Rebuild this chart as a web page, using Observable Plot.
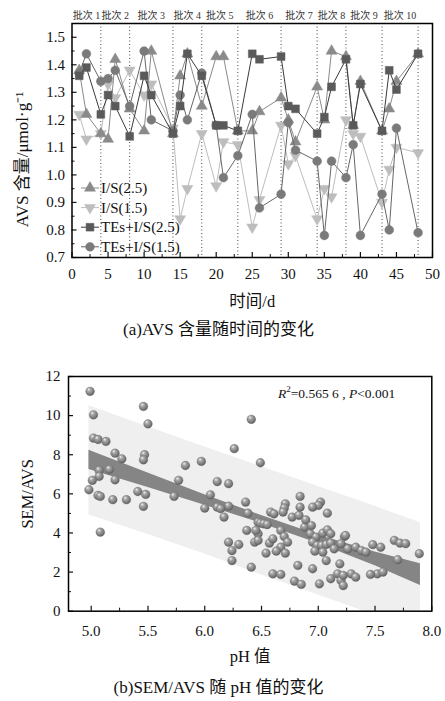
<!DOCTYPE html>
<html><head><meta charset="utf-8">
<script src="https://cdn.jsdelivr.net/npm/d3@7"></script>
<script src="https://cdn.jsdelivr.net/npm/@observablehq/plot@0.6"></script>
<style>
body{margin:0;background:#fff;}
#wrap{position:relative;width:445px;height:701px;overflow:hidden;font-family:"Liberation Serif","Noto Sans CJK SC",serif;color:#111;}
#wrap svg{position:absolute;left:0;}
.cap{position:absolute;left:0;width:445px;text-align:center;font-size:17px;line-height:20px;}
#ann{position:absolute;left:278px;top:381px;font-size:13.5px;line-height:16px;white-space:nowrap;}
</style></head><body><div id="wrap"></div>
<script>
// ---------- Panel (a) data ----------
const days = [1,2,4,5,6,8,10,11,14,15,16,18,20,21,23,25,26,29,30,31,34,35,36,38,39,40,43,44,45,48];
const seriesNames = ["I/S(2.5)","I/S(1.5)","TEs+I/S(2.5)","TEs+I/S(1.5)"];
const is25 = [1.38,1.22,1.15,1.13,1.42,1.24,1.16,1.45,1.15,1.36,1.44,1.25,1.43,1.43,1.16,1.16,1.23,1.28,1.20,1.12,1.32,1.20,1.45,1.43,1.18,1.34,1.16,1.24,1.34,1.44];
const is15 = [1.22,1.13,1.15,1.33,1.28,1.38,1.29,1.33,1.17,0.84,0.95,1.15,0.96,1.12,1.11,0.81,0.91,1.18,1.04,1.07,0.84,0.95,0.92,1.20,1.15,1.14,0.90,1.02,1.10,1.08];
const te25 = [1.36,1.39,1.22,1.29,1.25,1.14,1.36,1.29,1.15,1.25,1.44,1.36,1.18,1.18,1.16,1.44,1.42,1.43,1.25,1.24,1.15,1.21,1.32,1.42,1.18,1.33,1.16,1.38,1.31,1.44];
const te15 = [1.37,1.44,1.34,1.35,1.38,1.25,1.45,1.20,1.16,1.29,1.20,1.37,1.18,0.99,1.07,1.22,0.88,0.93,1.19,1.09,1.05,0.78,1.05,0.99,1.11,0.78,0.93,0.80,1.17,0.79];
const batchBounds = [4,8,14,18,23,29,34,38,43,48];
const batchMid = [2,6,11,16,20.5,26,31.5,36,40.5,45.5];
const batchLabels = ["批次 1","批次 2","批次 3","批次 4","批次 5","批次 6","批次 7","批次 8","批次 9","批次 10"];
const xTicksA = [0,5,10,15,20,25,30,35,40,45,50];
const xMinorA = [2.5,7.5,12.5,17.5,22.5,27.5,32.5,37.5,42.5,47.5];
const yTicksA = [0.7,0.8,0.9,1.0,1.1,1.2,1.3,1.4,1.5];
const yMinorA = [0.75,0.85,0.95,1.05,1.15,1.25,1.35,1.45];

// ---------- Panel (b) data ----------
const ph = [4.99,5.02,5.02,5.06,5.13,5.21,5.27,5.07,5.16,5.07,5.01,5.21,4.98,5.06,5.08,5.19,5.31,5.08,
5.46,5.50,5.47,5.46,5.41,5.48,5.46,5.83,5.77,5.73,5.97,6.05,6.00,6.11,6.21,6.11,6.21,6.14,6.17,6.26,
6.41,6.49,6.36,6.38,6.47,6.37,6.47,6.44,6.21,6.30,6.24,6.24,6.41,6.84,6.71,6.70,7.02,7.00,7.08,6.58,
6.61,6.69,6.77,6.83,6.49,6.52,6.55,6.45,6.47,6.57,6.60,6.67,6.70,6.73,6.67,6.54,6.63,6.71,6.88,6.93,
6.98,7.04,7.08,7.11,6.95,6.99,7.03,7.07,7.11,6.97,7.04,7.14,7.23,7.20,7.26,7.33,7.38,7.42,7.48,7.55,
7.67,7.72,7.77,7.89,7.70,6.60,6.67,6.79,6.85,6.82,6.95,7.01,7.11,7.17,7.20,7.22,7.19,7.07,7.29,7.33,
7.52,7.57,6.84,6.95,6.89,6.94,7.24,7.46,7.22];
const semavs = [11.24,10.04,8.85,8.78,8.68,8.08,7.79,7.20,7.25,6.89,6.69,6.72,6.21,5.92,5.87,5.70,5.70,4.04,
10.47,9.58,8.00,7.74,6.12,5.97,5.36,7.45,6.69,5.87,7.66,5.95,5.27,6.63,6.52,5.32,5.37,5.24,4.81,8.31,
9.81,7.59,5.58,5.01,4.55,4.13,3.96,3.53,3.53,3.41,3.10,2.59,2.25,5.87,5.49,5.27,5.58,5.41,5.01,5.07,
4.98,5.07,4.81,4.90,4.50,4.47,4.43,4.13,3.62,3.48,3.70,4.13,3.82,3.53,3.27,2.97,3.07,2.97,4.30,3.96,
3.79,3.99,4.16,3.96,3.53,3.36,3.36,3.41,3.48,3.07,3.02,3.19,3.82,3.45,3.19,3.27,3.10,3.02,3.40,3.27,
3.62,3.48,3.45,2.94,2.63,1.91,1.88,1.54,1.37,2.34,2.17,1.40,1.66,1.91,1.57,1.31,2.42,2.59,1.91,1.74,
1.91,2.00,5.32,5.32,4.67,4.38,3.87,1.88,1.83];
const bandPH = [4.98,5.5,6.0,6.5,7.0,7.5,7.9];
const ciLow  = [7.25,6.33,5.42,4.49,3.46,2.33,1.32];
const ciHigh = [8.23,7.07,5.96,4.89,3.90,3.03,2.42];
const piLow  = [4.92,3.92,2.93,1.85,0.83,-0.20,-1.00];
const piHigh = [10.50,9.43,8.40,7.39,6.38,5.36,4.52];
const xTicksB = [5.0,5.5,6.0,6.5,7.0,7.5,8.0];
const xMinorB = [5.25,5.75,6.25,6.75,7.25,7.75];
const yTicksB = [0,2,4,6,8,10,12];
const yMinorB = [1,3,5,7,9,11];

const FONT = '"Liberation Serif","Noto Sans CJK SC",serif';
const wrap = document.getElementById("wrap");

// ---------- Panel (a) ----------
const valuesBy = [is25, is15, te25, te15];
const sty = [
  {fill:"#8a8a8a", line:"#8a8a8a", symbol:"triangle", rot:0, r:4.1},
  {fill:"#bdbdbd", line:"#bdbdbd", symbol:"triangle", rot:180, r:4.1},
  {fill:"#5a5a5a", line:"#3a3a3a", symbol:"square", rot:0, r:4.4},
  {fill:"#7a7a7a", line:"#666666", symbol:"circle", rot:0, r:4.4}
];
const drawOrder = [1,0,3,2];
const seriesMarks = [];
for (const k of drawOrder) {
  const rows = days.map((d,i)=>({day:d, v:valuesBy[k][i]}));
  seriesMarks.push(Plot.line(rows,{x:"day",y:"v",stroke:sty[k].line,strokeWidth:1}));
  seriesMarks.push(Plot.dot(rows,{x:"day",y:"v",symbol:sty[k].symbol,r:sty[k].r,fill:sty[k].fill,stroke:sty[k].fill,strokeWidth:0.5,rotate:sty[k].rot}));
}
const plotA = Plot.plot({
  width:445, height:310, marginTop:23, marginBottom:53, marginLeft:71.5, marginRight:13,
  x:{domain:[0,50]}, y:{domain:[0.7,1.55]},
  style:{fontFamily:FONT, fontSize:"15px", color:"#111", background:"transparent", overflow:"visible"},
  marks:[
    Plot.ruleX(batchBounds,{stroke:"#444",strokeDasharray:"1,2.5",strokeWidth:1}),
    ...seriesMarks,
    Plot.axisX({ticks:xTicksA, tickSize:0, tickPadding:11, tickFormat:d=>String(d), label:null}),
    Plot.axisX({ticks:xTicksA, tickSize:-5, tickFormat:()=>"", label:null, strokeWidth:1.2}),
    Plot.axisX({ticks:xMinorA, tickSize:-3, tickFormat:()=>"", label:null}),
    Plot.axisY({ticks:yTicksA, tickSize:0, tickPadding:7, tickFormat:d3.format(".1f"), label:null}),
    Plot.axisY({ticks:yTicksA, tickSize:-5, tickFormat:()=>"", label:null, strokeWidth:1.2}),
    Plot.axisY({ticks:yMinorA, tickSize:-3, tickFormat:()=>"", label:null}),
    Plot.frame({stroke:"#000",strokeWidth:1.5}),
    Plot.text(batchLabels,{x:batchMid, text:d=>d, frameAnchor:"top", dy:-8, fontSize:10, fill:"#333", textAnchor:"middle", lineAnchor:"middle"}),
    Plot.text(["时间/d"],{text:d=>d, frameAnchor:"bottom", dy:44, fontSize:16.5, textAnchor:"middle", lineAnchor:"middle"}),
    Plot.text(["AVS 含量/μmol·g⁻¹"],{text:d=>d, frameAnchor:"left", dx:-49.5, dy:19, rotate:-90, fontSize:17, textAnchor:"middle", lineAnchor:"middle", letterSpacing:"1px"})
  ]
});
plotA.style.top = "0px";
wrap.appendChild(plotA);

// legend (inside panel a)
const lg = d3.select(plotA).append("g").attr("font-family",FONT).attr("font-size",15).attr("fill","#111").attr("text-anchor","start");
seriesNames.forEach((name,k)=>{
  const y = 188 + k*19.6;
  lg.append("line").attr("x1",81).attr("x2",99).attr("y1",y).attr("y2",y).attr("stroke",sty[k].line).attr("stroke-width",1);
  const symType = sty[k].symbol==="triangle"?d3.symbolTriangle:sty[k].symbol==="square"?d3.symbolSquare:d3.symbolCircle;
  lg.append("path").attr("d",d3.symbol(symType,Math.PI*sty[k].r*sty[k].r)())
    .attr("transform",`translate(90,${y}) rotate(${sty[k].rot})`)
    .attr("fill",sty[k].fill).attr("stroke",sty[k].fill).attr("stroke-width",0.5);
  lg.append("text").attr("x",101).attr("y",y).attr("dy","0.35em").attr("text-anchor","start").text(name);
});

// ---------- Panel (b) ----------
const pts = ph.map((p,i)=>({ph:p, v:semavs[i]}));
const plotB = Plot.plot({
  width:445, height:300, marginTop:20, marginBottom:45.3, marginLeft:68, marginRight:13.7,
  x:{domain:[4.8,8.0]}, y:{domain:[0,12]},
  style:{fontFamily:FONT, fontSize:"15px", color:"#111", background:"transparent", overflow:"visible"},
  marks:[
    Plot.areaY(bandPH,{x:bandPH, y1:piLow, y2:piHigh, fill:"#efefef", clip:true}),
    Plot.areaY(bandPH,{x:bandPH, y1:ciLow, y2:ciHigh, fill:"#858585", clip:true}),
    Plot.dot(pts,{x:"ph", y:"v", r:4.4, fill:"url(#sphere)", stroke:"#6a6a6a", strokeWidth:0.3}),
    Plot.axisX({ticks:xTicksB, tickSize:0, tickPadding:14, tickFormat:d3.format(".1f"), label:null}),
    Plot.axisX({ticks:xTicksB, tickSize:-5, tickFormat:()=>"", label:null, strokeWidth:1.2}),
    Plot.axisX({ticks:xMinorB, tickSize:-3, tickFormat:()=>"", label:null}),
    Plot.axisY({ticks:yTicksB, tickSize:0, tickPadding:8, tickFormat:d=>String(d), label:null}),
    Plot.axisY({ticks:yTicksB, tickSize:-5, tickFormat:()=>"", label:null, strokeWidth:1.2}),
    Plot.axisY({ticks:yMinorB, tickSize:-3, tickFormat:()=>"", label:null}),
    Plot.frame({stroke:"#000",strokeWidth:1.5}),
    Plot.text(["pH 值"],{text:d=>d, frameAnchor:"bottom", dy:46, fontSize:16.5, textAnchor:"middle", lineAnchor:"middle"}),
    Plot.text(["SEM/AVS"],{text:d=>d, frameAnchor:"left", dx:-41, rotate:-90, fontSize:16.5, textAnchor:"middle", lineAnchor:"middle"})
  ]
});
plotB.style.top = "356px";
d3.select(plotB).insert("defs",":first-child").html(
  '<radialGradient id="sphere" cx="0.42" cy="0.38" r="0.62" fx="0.35" fy="0.28">'+
  '<stop offset="0" stop-color="#f4f4f4"/><stop offset="0.3" stop-color="#a9a9a9"/>'+
  '<stop offset="0.75" stop-color="#7c7c7c"/><stop offset="1" stop-color="#5c5c5c"/></radialGradient>');
wrap.appendChild(plotB);

// annotation & captions
const ann = document.createElement("div");
ann.id = "ann";
ann.innerHTML = '<i>R</i><sup style="font-size:9px">2</sup>=0.565 6 , <i>P</i>&lt;0.001';
wrap.appendChild(ann);
const capA = document.createElement("div");
capA.className="cap"; capA.style.top="320px"; capA.style.left="-4px";
capA.textContent = "(a)AVS 含量随时间的变化";
wrap.appendChild(capA);
const capB = document.createElement("div");
capB.className="cap"; capB.style.top="678px"; capB.style.left="-4px";
capB.textContent = "(b)SEM/AVS 随 pH 值的变化";
wrap.appendChild(capB);
</script></body></html>
